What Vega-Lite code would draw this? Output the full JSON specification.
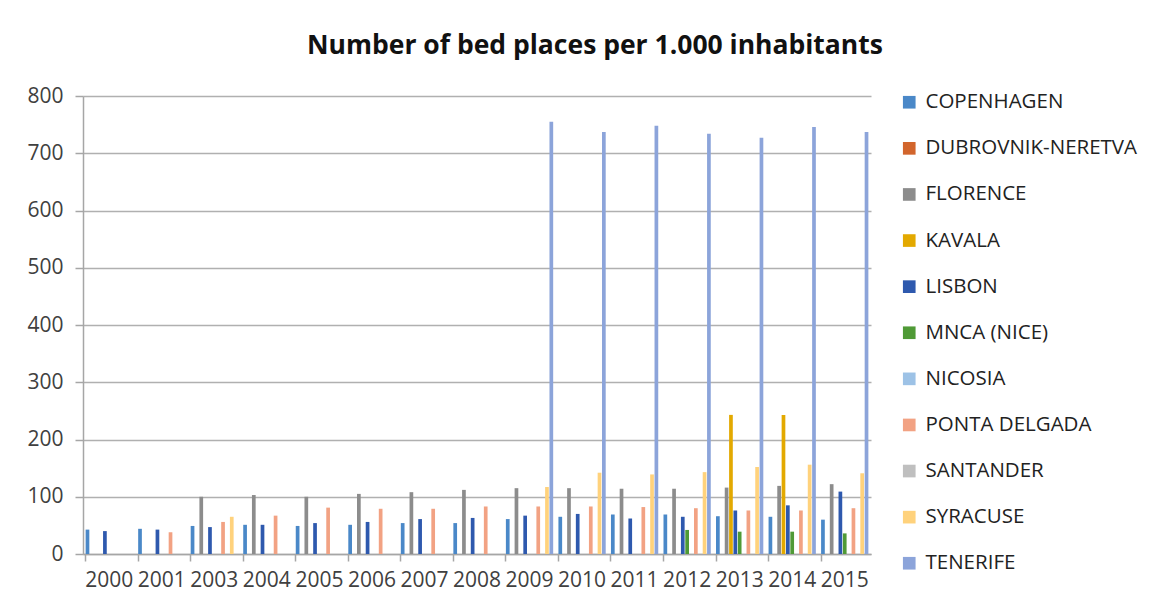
{
  "$schema": "https://vega.github.io/schema/vega-lite/v6.json",
  "width": 788,
  "height": 458,
  "autosize": {"type": "none"},
  "padding": {"left": 83, "top": 96, "right": 300, "bottom": 59},
  "background": "white",
  "config": {
    "font": "Open Sans",
    "view": {"stroke": null},
    "axis": {"labelFont": "Open Sans", "labelColor": "#404040"}
  },
  "title": {
    "text": "Number of bed places per 1.000 inhabitants",
    "font": "Open Sans",
    "fontSize": 26.5,
    "fontWeight": "bold",
    "color": "#111111",
    "anchor": "middle",
    "frame": "group",
    "dx": 118,
    "baseline": "alphabetic",
    "offset": 5
  },
  "data": {
    "values": [
      {"year": "2000", "city": "COPENHAGEN", "value": 42.6},
      {"year": "2000", "city": "LISBON", "value": 40},
      {"year": "2001", "city": "COPENHAGEN", "value": 44},
      {"year": "2001", "city": "LISBON", "value": 42.6},
      {"year": "2001", "city": "PONTA DELGADA", "value": 38},
      {"year": "2003", "city": "COPENHAGEN", "value": 49},
      {"year": "2003", "city": "FLORENCE", "value": 100},
      {"year": "2003", "city": "LISBON", "value": 47},
      {"year": "2003", "city": "PONTA DELGADA", "value": 56},
      {"year": "2003", "city": "SYRACUSE", "value": 65},
      {"year": "2004", "city": "COPENHAGEN", "value": 51},
      {"year": "2004", "city": "FLORENCE", "value": 103},
      {"year": "2004", "city": "LISBON", "value": 51},
      {"year": "2004", "city": "PONTA DELGADA", "value": 67},
      {"year": "2005", "city": "COPENHAGEN", "value": 49},
      {"year": "2005", "city": "FLORENCE", "value": 100},
      {"year": "2005", "city": "LISBON", "value": 54},
      {"year": "2005", "city": "PONTA DELGADA", "value": 81},
      {"year": "2006", "city": "COPENHAGEN", "value": 51},
      {"year": "2006", "city": "FLORENCE", "value": 105},
      {"year": "2006", "city": "LISBON", "value": 56},
      {"year": "2006", "city": "PONTA DELGADA", "value": 79},
      {"year": "2007", "city": "COPENHAGEN", "value": 54},
      {"year": "2007", "city": "FLORENCE", "value": 108},
      {"year": "2007", "city": "LISBON", "value": 61},
      {"year": "2007", "city": "PONTA DELGADA", "value": 79},
      {"year": "2008", "city": "COPENHAGEN", "value": 54},
      {"year": "2008", "city": "FLORENCE", "value": 112},
      {"year": "2008", "city": "LISBON", "value": 63},
      {"year": "2008", "city": "PONTA DELGADA", "value": 83},
      {"year": "2009", "city": "COPENHAGEN", "value": 61},
      {"year": "2009", "city": "FLORENCE", "value": 115},
      {"year": "2009", "city": "LISBON", "value": 67},
      {"year": "2009", "city": "PONTA DELGADA", "value": 83},
      {"year": "2009", "city": "SYRACUSE", "value": 117},
      {"year": "2009", "city": "TENERIFE", "value": 755},
      {"year": "2010", "city": "COPENHAGEN", "value": 65},
      {"year": "2010", "city": "FLORENCE", "value": 115},
      {"year": "2010", "city": "LISBON", "value": 70},
      {"year": "2010", "city": "PONTA DELGADA", "value": 83},
      {"year": "2010", "city": "SYRACUSE", "value": 142},
      {"year": "2010", "city": "TENERIFE", "value": 737},
      {"year": "2011", "city": "COPENHAGEN", "value": 69},
      {"year": "2011", "city": "FLORENCE", "value": 114},
      {"year": "2011", "city": "LISBON", "value": 62},
      {"year": "2011", "city": "PONTA DELGADA", "value": 82},
      {"year": "2011", "city": "SYRACUSE", "value": 139},
      {"year": "2011", "city": "TENERIFE", "value": 748},
      {"year": "2012", "city": "COPENHAGEN", "value": 69},
      {"year": "2012", "city": "FLORENCE", "value": 114},
      {"year": "2012", "city": "LISBON", "value": 65},
      {"year": "2012", "city": "MNCA (NICE)", "value": 42},
      {"year": "2012", "city": "PONTA DELGADA", "value": 80},
      {"year": "2012", "city": "SYRACUSE", "value": 143},
      {"year": "2012", "city": "TENERIFE", "value": 734},
      {"year": "2013", "city": "COPENHAGEN", "value": 66},
      {"year": "2013", "city": "FLORENCE", "value": 116},
      {"year": "2013", "city": "KAVALA", "value": 243},
      {"year": "2013", "city": "LISBON", "value": 76},
      {"year": "2013", "city": "MNCA (NICE)", "value": 39},
      {"year": "2013", "city": "PONTA DELGADA", "value": 76},
      {"year": "2013", "city": "SYRACUSE", "value": 152},
      {"year": "2013", "city": "TENERIFE", "value": 727},
      {"year": "2014", "city": "COPENHAGEN", "value": 65},
      {"year": "2014", "city": "FLORENCE", "value": 119},
      {"year": "2014", "city": "KAVALA", "value": 243},
      {"year": "2014", "city": "LISBON", "value": 85},
      {"year": "2014", "city": "MNCA (NICE)", "value": 39},
      {"year": "2014", "city": "PONTA DELGADA", "value": 76},
      {"year": "2014", "city": "SYRACUSE", "value": 156},
      {"year": "2014", "city": "TENERIFE", "value": 746},
      {"year": "2015", "city": "COPENHAGEN", "value": 60},
      {"year": "2015", "city": "FLORENCE", "value": 122},
      {"year": "2015", "city": "LISBON", "value": 109},
      {"year": "2015", "city": "MNCA (NICE)", "value": 36},
      {"year": "2015", "city": "PONTA DELGADA", "value": 80},
      {"year": "2015", "city": "SYRACUSE", "value": 141},
      {"year": "2015", "city": "TENERIFE", "value": 737}
    ]
  },
  "layer": [
    {
      "mark": {"type": "bar"},
      "encoding": {
        "x": {
          "field": "year",
          "type": "ordinal",
          "scale": {"paddingInner": 0.1, "paddingOuter": 0.05},
          "axis": {
            "title": null,
            "labelAngle": 0,
            "labelFontSize": 21,
            "labelPadding": 15,
            "ticks": false,
            "domainColor": "#A6A6A6",
            "domainWidth": 1.5,
            "grid": false
          }
        },
        "xOffset": {
          "field": "city",
          "scale": {
            "domain": ["COPENHAGEN", "DUBROVNIK-NERETVA", "FLORENCE", "KAVALA", "LISBON", "MNCA (NICE)", "NICOSIA", "PONTA DELGADA", "SANTANDER", "SYRACUSE", "TENERIFE"],
            "paddingInner": 0.15
          }
        },
        "y": {
          "field": "value",
          "type": "quantitative",
          "scale": {"domain": [0, 800]},
          "axis": {
            "title": null,
            "values": [0, 100, 200, 300, 400, 500, 600, 700, 800],
            "labelFontSize": 21,
            "labelPadding": 12,
            "tickSize": 8,
            "tickColor": "#A6A6A6",
            "tickWidth": 1.5,
            "domainColor": "#A6A6A6",
            "domainWidth": 1.5,
            "gridColor": "#B0B0B0",
            "gridWidth": 1.5
          }
        },
        "color": {
          "field": "city",
          "type": "nominal",
          "scale": {
            "domain": ["COPENHAGEN", "DUBROVNIK-NERETVA", "FLORENCE", "KAVALA", "LISBON", "MNCA (NICE)", "NICOSIA", "PONTA DELGADA", "SANTANDER", "SYRACUSE", "TENERIFE"],
            "range": ["#4A88C8", "#D2652C", "#8C8C8C", "#E3A900", "#2E59AE", "#4F9A36", "#9DC2E6", "#F2A283", "#BFBFBF", "#FFD27C", "#8CA4DA"]
          },
          "legend": {
            "title": null,
            "orient": "none",
            "legendX": 816,
            "legendY": -4,
            "symbolType": "square",
            "symbolSize": 160,
            "symbolStrokeWidth": 0,
            "labelFont": "Open Sans",
            "labelFontSize": 20.5,
            "labelColor": "#222222",
            "labelOffset": 6,
            "rowPadding": 25.1,
            "labelLimit": 300
          }
        }
      }
    },
    {
      "mark": {"type": "tick", "opacity": 0},
      "encoding": {
        "x": {
          "field": "year",
          "type": "ordinal",
          "axis": {
            "orient": "bottom",
            "title": null,
            "labels": false,
            "domain": false,
            "grid": false,
            "ticks": true,
            "tickSize": 7,
            "tickWidth": 1.5,
            "tickColor": "#A6A6A6",
            "bandPosition": 0
          }
        }
      }
    }
  ],
  "resolve": {"axis": {"x": "independent"}}
}
